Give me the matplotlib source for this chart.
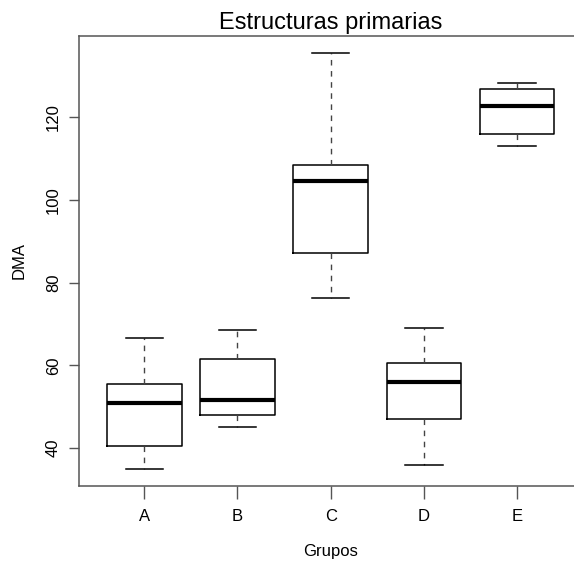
import matplotlib
matplotlib.use("Agg")
from matplotlib import pyplot as plt

grupos = ["A", "B", "C", "D", "E"]
whisker_low = [34.9, 45.0, 76.3, 35.9, 113.0]
q1 = [40.5, 48.1, 87.2, 47.1, 116.1]
medians = [50.8, 51.6, 104.6, 56.1, 122.7]
q3 = [55.4, 61.5, 108.4, 60.6, 126.8]
whisker_high = [66.7, 68.6, 135.7, 69.0, 128.4]
y_ticks = [40, 60, 80, 100, 120]


def main():
    plt.rcParams["font.family"] = ["Liberation Sans", "DejaVu Sans"]
    fig = plt.figure(figsize=(5.74, 5.61), dpi=100)
    # R-style box: right edge falls just outside the picture
    ax = fig.add_axes([0.1376, 0.1342, 0.8769, 0.8016])

    stats = []
    for i, g in enumerate(grupos):
        stats.append({
            "label": g,
            "whislo": whisker_low[i],
            "q1": q1[i],
            "med": medians[i],
            "q3": q3[i],
            "whishi": whisker_high[i],
            "fliers": [],
        })

    ax.bxp(
        stats,
        positions=range(1, len(grupos) + 1),
        widths=0.8,
        showfliers=False,
        boxprops=dict(color="black", linewidth=1.1),
        medianprops=dict(color="black", linewidth=3, solid_capstyle="butt"),
        whiskerprops=dict(color="#444444", linewidth=1.0, linestyle=(0, (4, 4))),
        capprops=dict(color="black", linewidth=1.1),
        capwidths=0.4,
    )

    ax.set_xlim(0.3, 5.7)
    ax.set_ylim(30.9, 139.7)
    ax.set_yticks(y_ticks)
    ax.set_yticklabels([str(v) for v in y_ticks], rotation=90, va="center")
    ax.set_xticks(range(1, len(grupos) + 1))
    ax.set_xticklabels(grupos)

    for s in ax.spines.values():
        s.set_color("#555555")
        s.set_linewidth(1.1)
    ax.tick_params(axis="y", length=7, width=1.0, color="#555555",
                   labelsize=12, pad=6)
    ax.tick_params(axis="x", length=9, width=1.0, color="#555555",
                   labelsize=12, pad=8)

    ax.set_title("Estructuras primarias", fontsize=17, pad=5)
    ax.set_xlabel("Grupos", fontsize=12, labelpad=14)
    ax.set_ylabel("DMA", fontsize=12, labelpad=14)

    fig.savefig("out.png", dpi=100)


if __name__ == "__main__":
    main()
